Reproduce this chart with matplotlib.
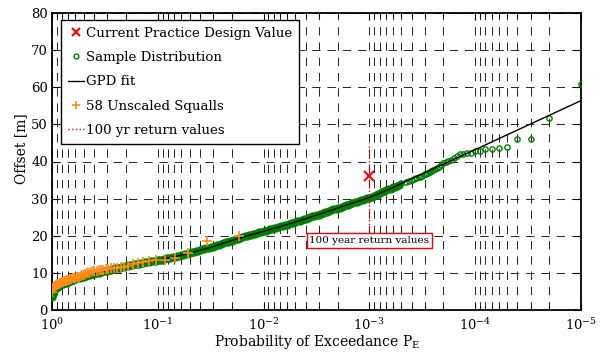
import numpy as np
import matplotlib
matplotlib.use("Agg")
import matplotlib.pyplot as plt
from matplotlib.lines import Line2D
from matplotlib.ticker import FixedLocator, FuncFormatter, NullFormatter

plt.rcParams['font.family'] = ['DejaVu Serif']
plt.rcParams['mathtext.fontset'] = 'dejavuserif'
plt.rcParams['lines.scale_dashes'] = False

# Sample distribution, dense body: decades below P_E = 1 and offsets [m]
sample_dense_decades = [
    0.000, 0.003, 0.006, 0.010, 0.015, 0.020, 0.030,
    0.04, 0.06, 0.08, 0.10, 0.12, 0.14, 0.16, 0.18, 0.20, 0.22,
    0.24, 0.26, 0.28, 0.30, 0.32, 0.34, 0.36, 0.38, 0.40, 0.42,
    0.44, 0.46, 0.48, 0.50, 0.52, 0.54, 0.56, 0.58, 0.60, 0.62,
    0.64, 0.66, 0.68, 0.70, 0.72, 0.74, 0.76, 0.78, 0.80, 0.82,
    0.84, 0.86, 0.88, 0.90, 0.92, 0.94, 0.96, 0.98, 1.00, 1.02,
    1.04, 1.06, 1.08, 1.10, 1.12, 1.14, 1.16, 1.18, 1.20, 1.22,
    1.24, 1.26, 1.28, 1.30, 1.32, 1.34, 1.36, 1.38, 1.40, 1.42,
    1.44, 1.46, 1.48, 1.50, 1.52, 1.54, 1.56, 1.58, 1.60, 1.62,
    1.64, 1.66, 1.68, 1.70, 1.72, 1.74, 1.76, 1.78, 1.80, 1.82,
    1.84, 1.86, 1.88, 1.90, 1.92, 1.94, 1.96, 1.98, 2.00, 2.02,
    2.04, 2.06, 2.08, 2.10, 2.12, 2.14, 2.16, 2.18, 2.20, 2.22,
    2.24, 2.26, 2.28, 2.30, 2.32, 2.34, 2.36, 2.38, 2.40, 2.42,
    2.44, 2.46, 2.48, 2.50, 2.52, 2.54, 2.56, 2.58, 2.60, 2.62,
    2.64, 2.66, 2.68, 2.70, 2.72, 2.74, 2.76, 2.78, 2.80, 2.82,
    2.84, 2.86, 2.88, 2.90, 2.92, 2.94, 2.96, 2.98, 3.00, 3.02,
    3.04, 3.06, 3.08, 3.10, 3.12, 3.14, 3.16, 3.18, 3.20, 3.22,
    3.24, 3.26, 3.28,
]
sample_dense_offset = [
    3.4, 3.9, 4.4, 4.8, 5.2, 5.5, 5.8,
    5.9, 6.3, 6.6, 7.0, 7.2, 7.4, 7.7, 7.9, 8.1, 8.3,
    8.5, 8.6, 8.8, 9.0, 9.2, 9.3, 9.5, 9.6, 9.8, 9.9,
    10.1, 10.2, 10.4, 10.5, 10.6, 10.8, 10.9, 11.1, 11.2, 11.3,
    11.4, 11.6, 11.7, 11.8, 11.9, 12.0, 12.2, 12.3, 12.4, 12.5,
    12.6, 12.7, 12.8, 12.9, 13.0, 13.1, 13.2, 13.3, 13.4, 13.5,
    13.6, 13.8, 13.9, 14.0, 14.1, 14.2, 14.4, 14.5, 14.6, 14.7,
    14.9, 15.0, 15.2, 15.3, 15.5, 15.6, 15.8, 15.9, 16.1, 16.3,
    16.4, 16.6, 16.7, 16.9, 17.1, 17.3, 17.4, 17.6, 17.8, 18.0,
    18.2, 18.3, 18.5, 18.7, 18.9, 19.1, 19.2, 19.4, 19.6, 19.8,
    19.9, 20.1, 20.2, 20.4, 20.6, 20.7, 20.9, 21.0, 21.2, 21.4,
    21.5, 21.7, 21.8, 22.0, 22.2, 22.3, 22.5, 22.6, 22.8, 23.0,
    23.2, 23.3, 23.5, 23.7, 23.9, 24.1, 24.2, 24.4, 24.6, 24.8,
    25.0, 25.2, 25.4, 25.6, 25.7, 25.9, 26.1, 26.3, 26.5, 26.7,
    26.9, 27.1, 27.3, 27.5, 27.6, 27.8, 28.0, 28.2, 28.4, 28.6,
    28.8, 29.0, 29.2, 29.4, 29.5, 29.7, 29.9, 30.1, 30.3, 30.5,
    30.8, 31.0, 31.3, 31.5, 31.7, 32.0, 32.2, 32.5, 32.7, 33.0,
    33.2, 33.5, 33.8,
]

# Sample distribution, upper tail: rank k of the largest offsets
sample_size = 1.0e5
sample_tail_rank = [50, 45, 42, 40, 38, 36, 34, 33, 32, 30, 29, 28, 27, 26,
                    25, 24, 23, 22, 21, 20, 19, 18, 17, 16, 15, 14, 13, 12,
                    11, 10, 9, 8, 7, 6, 5, 4, 3, 2, 1]
sample_tail_offset = [34.1, 34.4, 34.7, 35.0, 35.2, 35.5, 35.7, 35.9, 36.1,
                      36.5, 36.7, 37.0, 37.2, 37.5, 37.7, 38.0, 38.3, 38.6,
                      39.1, 39.6, 39.9, 40.2, 40.5, 41.0, 41.5, 41.9, 42.1,
                      42.2, 42.3, 42.8, 42.9, 43.3, 43.4, 43.7, 43.9, 46.0,
                      46.1, 51.7, 61.0]

# GPD fit curve: decades below P_E = 1 and offsets [m]
gpd_decades = [0.0, 0.02, 0.05, 0.10, 0.20, 0.30, 0.40, 0.50, 0.60, 0.70,
               0.80, 0.90, 1.00, 1.10, 1.20, 1.30, 1.40, 1.50, 1.60, 1.70,
               1.80, 1.90, 2.00, 2.20, 2.40, 2.60, 2.80, 3.00, 3.20, 3.40,
               3.60, 3.80, 4.00, 4.25, 4.50, 4.75, 5.00]
gpd_offset = [4.3, 5.3, 6.1, 7.0, 8.1, 9.0, 9.8, 10.5, 11.2, 11.8,
              12.4, 12.9, 13.4, 14.0, 14.6, 15.3, 16.1, 16.9, 17.8, 18.7,
              19.6, 20.4, 21.2, 22.8, 24.6, 26.5, 28.4, 30.3, 32.7, 35.4,
              38.0, 40.6, 43.2, 46.5, 49.8, 53.1, 56.4]

# 58 unscaled squalls, ranked from largest offset
squall_offset = [20.0, 18.6, 15.3, 13.9, 13.6, 13.4, 13.3, 13.0, 12.6, 12.3,
                 11.9, 11.7, 11.5, 11.4, 11.3, 11.2, 11.1, 11.0, 10.9, 10.8,
                 10.7, 10.6, 10.5, 10.4, 10.3, 10.1, 9.9, 9.7, 9.5, 9.3,
                 9.1, 9.0, 8.9, 8.8, 8.7, 8.6, 8.5, 8.4, 8.3, 8.2,
                 8.1, 8.0, 7.9, 7.8, 7.7, 7.6, 7.5, 7.4, 7.3, 7.1,
                 7.0, 6.9, 6.7, 6.5, 6.3, 6.0, 5.6, 4.8]

# Current practice design value and 100-year return value marker
design_prob = 1.0e-3
design_offset = 36.0
return_prob = 1.0e-3
return_range = [21.0, 45.0]
return_text_offset = 18.7
return_text = '100 year return values'

legend_labels = ['Current Practice Design Value', 'Sample Distribution',
                 'GPD fit', '58 Unscaled Squalls', '100 yr return values']
xtick_exponents = [0, -1, -2, -3, -4, -5]
yticks = [0, 10, 20, 30, 40, 50, 60, 70, 80]

red = '#ff0000'
green = '#008000'
orange = '#ff8c1a'

fig = plt.figure(figsize=(6.06, 3.58), dpi=100)
ax = fig.add_axes([52 / 606, 1 - 310 / 358, 529 / 606, 297 / 358])
ax.set_xscale('log')

# sample distribution: the crowded body overlaps into a solid band
p_dense = 10.0 ** (-np.array(sample_dense_decades))
p_tail = np.array(sample_tail_rank) / sample_size
ax.plot(p_dense, sample_dense_offset, linestyle='none', marker='o',
        markersize=4.3, markerfacecolor='none', markeredgecolor=green,
        markeredgewidth=1.6, zorder=3)
ax.plot(p_tail, sample_tail_offset, linestyle='none', marker='o',
        markersize=3.8, markerfacecolor='none', markeredgecolor=green,
        markeredgewidth=1.0, zorder=3)

# GPD fit
ax.plot(10.0 ** (-np.array(gpd_decades)), gpd_offset, color='black',
        linewidth=1.0, zorder=4)

# squalls
n_sq = len(squall_offset)
p_sq = np.arange(1, n_sq + 1) / n_sq
ax.plot(p_sq, squall_offset, linestyle='none', marker='+', markersize=7,
        markeredgewidth=1.2, color=orange, zorder=5)

# design value
ax.plot([design_prob], [design_offset], linestyle='none', marker='x',
        markersize=7, markeredgewidth=1.5, color=red, zorder=6)

# 100 year return value line and label
ax.plot([return_prob, return_prob], return_range, color=red, linestyle=':',
        linewidth=1.0, zorder=6)
ax.text(return_prob, return_text_offset, return_text, fontsize=7.5,
        ha='center', va='center', zorder=7,
        bbox=dict(boxstyle='square,pad=0.25', facecolor='white',
                  edgecolor=red, linewidth=1.0))

ax.set_xlim(1.0, 1.0e-5)
ax.set_ylim(0, 80)

ax.xaxis.set_major_locator(FixedLocator([10.0 ** e for e in xtick_exponents]))
ax.xaxis.set_major_formatter(FuncFormatter(
    lambda v, pos: r'$\mathregular{10^{%d}}$' % int(round(np.log10(v)))))
minor = [m * 10.0 ** e for e in range(-5, 0) for m in range(2, 10)]
ax.xaxis.set_minor_locator(FixedLocator(minor))
ax.xaxis.set_minor_formatter(NullFormatter())
ax.set_yticks(yticks)

ax.tick_params(axis='both', which='both', direction='in', top=True,
               right=True, labelsize=9.5, colors='black')
ax.tick_params(axis='both', which='major', length=5, width=0.8)
ax.tick_params(axis='x', which='minor', length=3, width=0.8)
ax.tick_params(axis='x', which='major', pad=5)
ax.tick_params(axis='y', which='major', pad=3)

ax.grid(True, which='major', axis='both', color='black', linewidth=0.6,
        linestyle=(0, (6, 5)))
ax.grid(True, which='minor', axis='x', color='black', linewidth=0.6,
        linestyle=(0, (6, 5)))
ax.set_axisbelow(True)
for s in ax.spines.values():
    s.set_linewidth(1.3)

ax.set_xlabel(r'Probability of Exceedance P$_{\mathregular{E}}$', fontsize=10)
ax.set_ylabel('Offset [m]', fontsize=10)
ax.xaxis.set_label_coords(0.5, -0.078)
ax.yaxis.set_label_coords(-0.046, 0.545)

handles = [
    Line2D([], [], linestyle='none', marker='x', markersize=6,
           markeredgewidth=1.5, color=red),
    Line2D([], [], linestyle='none', marker='o', markersize=3.5,
           markerfacecolor='none', markeredgecolor=green, markeredgewidth=1.0),
    Line2D([], [], color='black', linewidth=1.0),
    Line2D([], [], linestyle='none', marker='+', markersize=6,
           markeredgewidth=1.2, color=orange),
    Line2D([], [], color=red, linestyle=':', linewidth=1.0),
]
leg = ax.legend(handles, legend_labels, loc='upper left',
                bbox_to_anchor=((61 - 52) / 529, (310 - 20) / 297),
                borderaxespad=0, fontsize=9.6, frameon=True, fancybox=False,
                framealpha=1, edgecolor='black', handlelength=1.2,
                handletextpad=0.2, labelspacing=0.85, borderpad=0.5)
leg.get_frame().set_linewidth(1.0)
leg.set_zorder(10)

fig.savefig('out.png', dpi=100)
